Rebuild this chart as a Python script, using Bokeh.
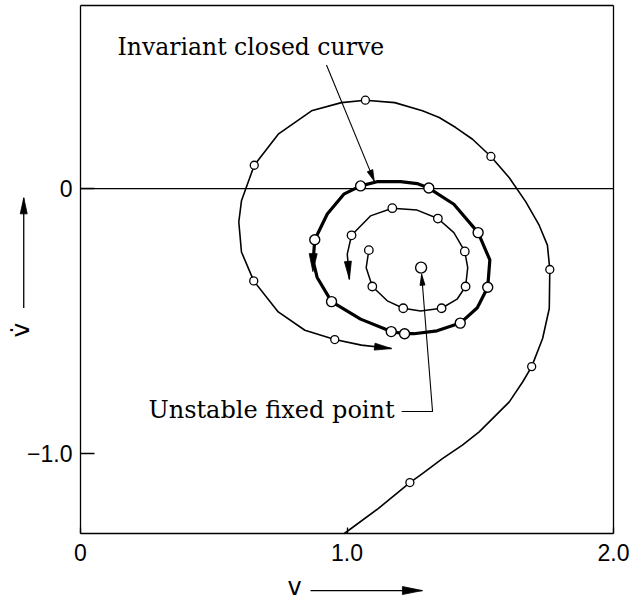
import math

from bokeh.core.properties import value
from bokeh.embed import file_html
from bokeh.models import FixedTicker, LinearAxis, Range1d
from bokeh.plotting import figure
from bokeh.resources import INLINE

# ---- phase-plane data (v, v-dot) ----
# outer trajectory spiralling in towards the invariant closed curve
outer_v = [0.990, 1.117, 1.236, 1.283, 1.358, 1.433, 1.496, 1.546, 1.609, 1.659,
           1.693, 1.734, 1.759, 1.761, 1.752, 1.721, 1.671, 1.609, 1.540, 1.471,
           1.408, 1.346, 1.283, 1.179, 1.069, 0.979, 0.867, 0.742, 0.652, 0.604,
           0.594, 0.604, 0.650, 0.742, 0.842, 0.954, 1.054, 1.167]
outer_vdot = [-1.300, -1.206, -1.108, -1.074, -1.018, -0.967, -0.917, -0.867, -0.804, -0.729,
              -0.671, -0.565, -0.452, -0.305, -0.213, -0.138, -0.050, 0.041, 0.121, 0.186,
              0.230, 0.268, 0.293, 0.324, 0.333, 0.324, 0.293, 0.205, 0.088, -0.046,
              -0.126, -0.239, -0.348, -0.465, -0.534, -0.569, -0.590, -0.603]
outer_iterates = [2, 10, 13, 18, 24, 28, 32, 35]

# invariant closed curve
closed_v = [1.307, 1.401, 1.492, 1.536, 1.528, 1.489, 1.425, 1.338, 1.251, 1.216,
            1.166, 1.051, 0.942, 0.888, 0.873, 0.879, 0.926, 0.988, 1.051, 1.113,
            1.201, 1.263, 1.307]
closed_vdot = [0.002, -0.059, -0.166, -0.269, -0.372, -0.449, -0.507, -0.536, -0.547, -0.547,
               -0.539, -0.492, -0.426, -0.335, -0.273, -0.193, -0.096, -0.021, 0.010, 0.026,
               0.026, 0.019, 0.002]
closed_iterates = [0, 2, 4, 6, 9, 10, 12, 15, 18]

# inner trajectory spiralling out from the unstable fixed point
inner_v = [1.082, 1.072, 1.095, 1.151, 1.211, 1.276, 1.355, 1.413, 1.445, 1.453,
           1.442, 1.401, 1.341, 1.263, 1.170, 1.088, 1.017, 1.001, 1.009]
inner_vdot = [-0.232, -0.298, -0.369, -0.423, -0.451, -0.461, -0.451, -0.417, -0.369, -0.298,
              -0.237, -0.166, -0.113, -0.081, -0.074, -0.103, -0.176, -0.247, -0.342]
inner_iterates = [0, 2, 4, 6, 8, 10, 12, 14, 16]

fixed_v = [1.278]
fixed_vdot = [-0.298]

x_ticks = [0, 1, 2]
x_tick_labels = ["0", "1.0", "2.0"]
y_ticks = [-1, 0]
y_tick_labels = ["\u22121.0", "0"]

# ---- layout: the frame fills the canvas, the boxed axes sit at fixed locations ----
BOX_X = (0.0, 2.0)
BOX_Y = (-1.30, 0.69)
W, H = 633, 602
SX, SY = 266.5, 265.33          # pixels per data unit
ML, MT = 80, 5                  # box offset from the canvas' left / top edge, px
x_lo = BOX_X[0] - ML / SX
y_hi = BOX_Y[1] + MT / SY
x_range = Range1d(x_lo, x_lo + W / SX)
y_range = Range1d(y_hi - H / SY, y_hi)

p = figure(width=W, height=H, x_range=x_range, y_range=y_range,
           output_backend="svg", toolbar_location=None, min_border=0)
p.xgrid.visible = False
p.ygrid.visible = False
p.outline_line_color = None
p.background_fill_color = "white"
p.border_fill_color = "white"


def style_axis(ax, ticks, labels, tick_in, standoff, loc, bounds):
    ax.fixed_location = loc
    ax.bounds = bounds
    ax.ticker = FixedTicker(ticks=ticks)
    ax.major_label_overrides = dict(zip(ticks, labels))
    ax.major_tick_in = tick_in
    ax.major_tick_out = 0
    ax.minor_tick_line_color = None
    ax.axis_line_width = 1.3
    ax.major_tick_line_width = 1.3
    ax.axis_line_color = "black"
    ax.major_tick_line_color = "black"
    ax.major_label_text_font = "Liberation Sans"
    ax.major_label_text_font_size = "23px"
    ax.major_label_text_color = "black"
    ax.major_label_standoff = standoff


style_axis(p.xaxis[0], x_ticks, x_tick_labels, 6, 10, BOX_Y[0], BOX_X)
style_axis(p.yaxis[0], y_ticks, y_tick_labels, 14, 8, BOX_X[0], BOX_Y)
p.yaxis[0].major_label_orientation = "horizontal"

# top and right edges of the box
top = LinearAxis(ticker=FixedTicker(ticks=[]), fixed_location=BOX_Y[1], bounds=BOX_X,
                 axis_line_width=1.3, axis_line_color="black", minor_tick_line_color=None)
right = LinearAxis(ticker=FixedTicker(ticks=[]), fixed_location=BOX_X[1], bounds=BOX_Y,
                   axis_line_width=1.3, axis_line_color="black", minor_tick_line_color=None)
p.add_layout(top, "above")
p.add_layout(right, "right")

# v-dot = 0 line across the box
p.line(list(BOX_X), [0, 0], line_color="black", line_width=1.1)


def head(tail, tip, length, half):
    """Narrow filled arrowhead at `tip`, pointing away from `tail` (sizes in px)."""
    dx = (tip[0] - tail[0]) * SX
    dy = (tip[1] - tail[1]) * SY
    n = math.hypot(dx, dy)
    ux, uy = dx / n, dy / n
    bx, by = -ux * length, -uy * length
    qx, qy = -uy * half, ux * half
    xs = [tip[0], tip[0] + (bx + qx) / SX, tip[0] + (bx - qx) / SX]
    ys = [tip[1], tip[1] + (by + qy) / SY, tip[1] + (by - qy) / SY]
    return xs, ys


# trajectories
p.line(outer_v, outer_vdot, line_color="black", line_width=1.6, line_join="round")
p.line(closed_v, closed_vdot, line_color="black", line_width=3.2, line_join="round")
p.line(inner_v, inner_vdot, line_color="black", line_width=1.5, line_join="round")

# direction arrows on the trajectories
heads = [
    head((outer_v[-2], outer_vdot[-2]), (outer_v[-1], outer_vdot[-1]), 17, 3.5),
    head((0.873, -0.250), (0.872, -0.313), 18, 4),
    head((inner_v[-2], inner_vdot[-2]), (inner_v[-1], inner_vdot[-1]), 18, 3.5),
]

# leader lines of the two captions
inv_tail, inv_tip = (0.923, 0.466), (1.102, 0.029)
fix_path_v = [1.205, 1.321, 1.280]
fix_path_vdot = [-0.840, -0.840, -0.323]
p.line([inv_tail[0], inv_tip[0]], [inv_tail[1], inv_tip[1]], line_color="black", line_width=1.1)
p.line(fix_path_v, fix_path_vdot, line_color="black", line_width=1.1)
heads.append(head(inv_tail, inv_tip, 11, 3))
heads.append(head((fix_path_v[1], fix_path_vdot[1]), (fix_path_v[2], fix_path_vdot[2]), 11, 2.5))

# axis-title arrows
v_arrow = ((0.863, -1.515), (1.283, -1.515))
vdot_arrow = ((-0.213, -0.450), (-0.213, -0.035))
for tail, tip in (v_arrow, vdot_arrow):
    p.line([tail[0], tip[0]], [tail[1], tip[1]], line_color="black", line_width=1.3)
heads.append(head(*v_arrow, 20, 4))
heads.append(head(*vdot_arrow, 16, 3.5))

p.patches([h[0] for h in heads], [h[1] for h in heads], fill_color="black",
          line_color="black", line_width=0.8)

# iterates of the map
p.scatter([outer_v[i] for i in outer_iterates], [outer_vdot[i] for i in outer_iterates],
          size=8, fill_color="white", line_color="black", line_width=1.3)
p.scatter([closed_v[i] for i in closed_iterates], [closed_vdot[i] for i in closed_iterates],
          size=10, fill_color="white", line_color="black", line_width=1.4)
p.scatter([inner_v[i] for i in inner_iterates], [inner_vdot[i] for i in inner_iterates],
          size=8.5, fill_color="white", line_color="black", line_width=1.3)
p.scatter(fixed_v, fixed_vdot, size=11, fill_color="white", line_color="black", line_width=1.4)

# captions
p.text(x=[0.139], y=[0.534], text=["Invariant closed curve"], text_font=value("DejaVu Serif"),
       text_font_size="23.5px", text_align="left", text_baseline="alphabetic", text_color="black")
p.text(x=[0.255], y=[-0.835], text=["Unstable fixed point"], text_font=value("DejaVu Serif"),
       text_font_size="24px", text_align="left", text_baseline="alphabetic", text_color="black")

# axis titles
p.text(x=[0.803], y=[-1.500], text=["v"], text_font=value("DejaVu Sans"), text_font_size="24px",
       text_align="center", text_baseline="alphabetic", text_color="black")
p.text(x=[-0.225], y=[-0.533], text=["v\u0307"], angle=math.pi / 2,
       text_font=value("DejaVu Sans"), text_font_size="25px",
       text_align="center", text_baseline="alphabetic", text_color="black")

open("out.html", "w").write(file_html(p, INLINE))
